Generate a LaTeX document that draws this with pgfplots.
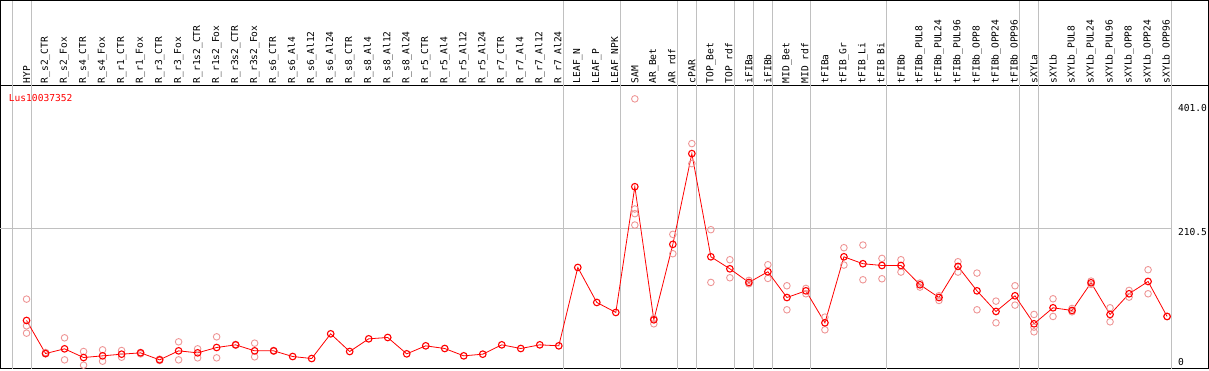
\documentclass[border=0pt]{standalone}
\usepackage{fontspec}
\setmainfont{DejaVu Sans Mono}
\usepackage{pgfplots}
\pgfplotsset{compat=1.18}
\usepackage{pgfplotstable}
\definecolor{repc}{RGB}{238,150,150}
\definecolor{sepc}{RGB}{192,192,192}
\newcommand\lbl{\fontsize{9.6pt}{10pt}\selectfont}

\pgfplotstableread{
x y
1 72
2 22.5
3 29.5
4 16.5
5 19
6 21.5
7 23.5
8 13
9 26.5
10 23.5
11 31.5
12 35.5
13 26.5
14 26.5
15 18
16 15
17 52
18 25.5
19 44.5
20 46.5
21 22
22 34
23 30
24 19
25 21.5
26 35.5
27 30
28 35.5
29 34
30 151.4
31 99
32 84
33 272.4
34 73
35 186
36 322
37 167.4
38 149.4
39 129
40 145
41 106.4
42 116.4
43 68.5
44 167.4
45 157
46 154.4
47 154.4
48 125.5
49 106.4
50 153
51 116.4
52 85.5
53 109
54 67
55 91
56 87
57 128.5
58 81
59 112
60 130.4
61 78
}\meantab

\pgfplotstableread{
x y
1 104
1 64
1 53
2 24
2 22
3 46
3 13
4 25.5
4 5
5 28
5 11
6 27
6 17
7 24
7 22
8 14
8 12
9 40
9 13
10 29.5
10 16
11 47.5
11 16
12 36
12 35
13 38
13 17.5
14 27
14 26
33 404
33 239
33 232
33 215
34 67
34 75
35 201
35 172
36 337
36 307
37 208
37 129
38 163
38 136
39 132
39 127
40 155.5
40 135
41 124
41 88
42 120
42 112
43 77
43 58
44 181
44 155
45 185
45 133
46 165
46 134.5
47 163
47 144.5
48 128
48 122
49 109
49 102
50 160
50 144.5
51 143
51 88
52 101
52 68.5
53 124
53 95
54 81
54 62
54 55
55 104.5
55 78
56 90
56 85
57 131
57 126
58 91
58 70
59 117
59 107
60 148
60 112
61 78
}\reptab

\begin{document}
\begin{tikzpicture}
\begin{axis}[
  width=1208pt, height=283pt, scale only axis,
  xmin=-0.37, xmax=63.18, ymin=0, ymax=424,
  axis line style={black, line width=1pt},
  clip=false,
  ytick=\empty,
  xtick={1,...,61},
  major tick length=0pt,
  xticklabel pos=upper,
  xticklabel style={rotate=90, anchor=west, inner sep=0pt, inner xsep=2pt, font=\lbl},
  xticklabels={HYP,R\_s2\_CTR,R\_s2\_Fox,R\_s4\_CTR,R\_s4\_Fox,R\_r1\_CTR,R\_r1\_Fox,R\_r3\_CTR,R\_r3\_Fox,R\_r1s2\_CTR,R\_r1s2\_Fox,R\_r3s2\_CTR,R\_r3s2\_Fox,R\_s6\_CTR,R\_s6\_Al4,R\_s6\_Al12,R\_s6\_Al24,R\_s8\_CTR,R\_s8\_Al4,R\_s8\_Al12,R\_s8\_Al24,R\_r5\_CTR,R\_r5\_Al4,R\_r5\_Al12,R\_r5\_Al24,R\_r7\_CTR,R\_r7\_Al4,R\_r7\_Al12,R\_r7\_Al24,LEAF\_N,LEAF\_P,LEAF\_NPK,SAM,AR\_Bet,AR\_rdf,cPAR,TOP\_Bet,TOP\_rdf,iFIBa,iFIBb,MID\_Bet,MID\_rdf,tFIBa,tFIB\_Gr,tFIB\_Li,tFIB\_Bi,tFIBb,tFIBb\_PUL8,tFIBb\_PUL24,tFIBb\_PUL96,tFIBb\_OPP8,tFIBb\_OPP24,tFIBb\_OPP96,sXYLa,sXYLb,sXYLb\_PUL8,sXYLb\_PUL24,sXYLb\_PUL96,sXYLb\_OPP8,sXYLb\_OPP24,sXYLb\_OPP96},
]
% outer frame including label area
\draw[black, line width=1pt] (rel axis cs:0,0) rectangle (rel axis cs:1,1.3004);
\path (rel axis cs:0,-0.007) -- (rel axis cs:1,-0.007);
% separators
\foreach \s in {0,1,29,32,35,36,38,39,40,42,46,53,54,61} {
  \edef\tmp{\noexpand\draw[sepc, line width=0.8pt] (axis cs:\s.24,0) -- (axis cs:\s.24,551.3);}
  \tmp
}
\draw[sepc, line width=0.8pt] (axis cs:-0.37,210.5) -- (axis cs:61.24,210.5);
% replicates
\addplot[only marks, mark=o, mark size=3.3pt, repc, mark options={line width=0.9pt}] table[x=x,y=y] {\reptab};
% mean
\addplot[red, line width=0.8pt, mark=o, mark size=3.3pt, mark options={line width=1.1pt}] table[x=x,y=y] {\meantab};
% texts
\node[red, anchor=west, inner sep=0pt, font=\lbl] at (axis cs:0.06,406) {Lus10037352};
\node[anchor=west, inner sep=0pt, font=\lbl] at (axis cs:61.57,391) {401.0};
\node[anchor=west, inner sep=0pt, font=\lbl] at (axis cs:61.57,204) {210.5};
\node[anchor=west, inner sep=0pt, font=\lbl] at (axis cs:61.57,10.5) {0};
\end{axis}
\end{tikzpicture}
\end{document}
